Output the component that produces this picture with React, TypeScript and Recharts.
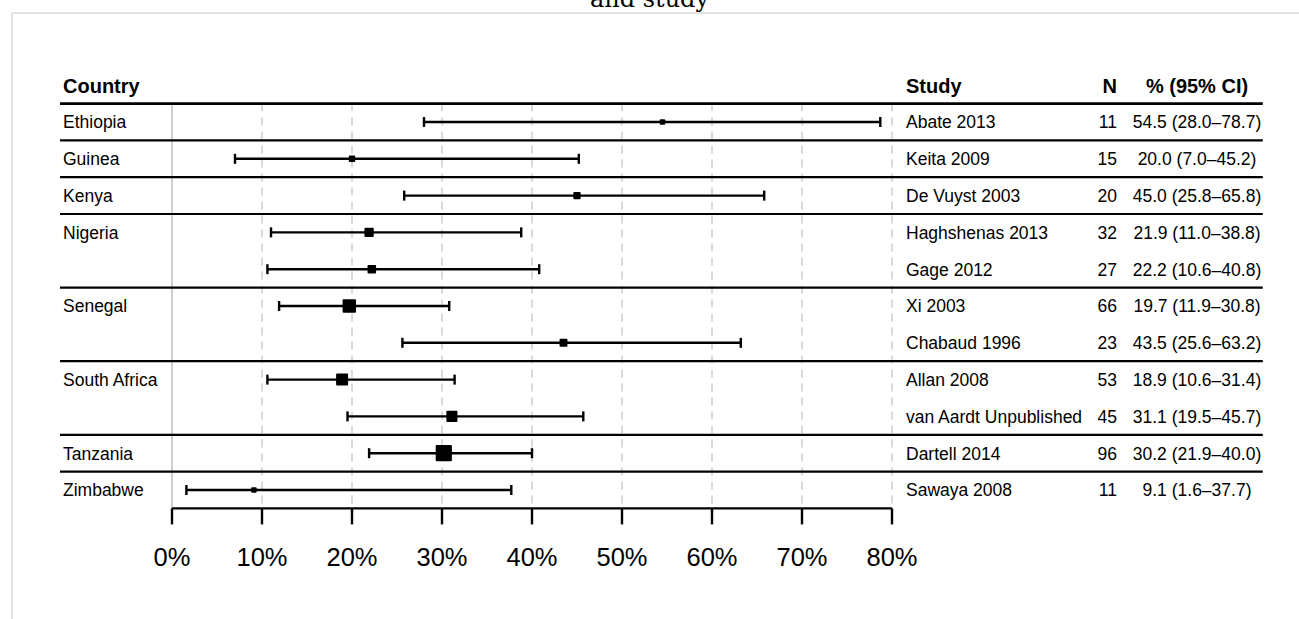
import { ScatterChart, Scatter, XAxis, YAxis, CartesianGrid, ErrorBar, ReferenceLine } from 'recharts'

const COUNTRIES = ['Ethiopia', 'Guinea', 'Kenya', 'Nigeria', 'Nigeria', 'Senegal', 'Senegal', 'South Africa', 'South Africa', 'Tanzania', 'Zimbabwe']
const STUDIES = ['Abate 2013', 'Keita 2009', 'De Vuyst 2003', 'Haghshenas 2013', 'Gage 2012', 'Xi 2003', 'Chabaud 1996', 'Allan 2008', 'van Aardt Unpublished', 'Dartell 2014', 'Sawaya 2008']
const N = [11, 15, 20, 32, 27, 66, 23, 53, 45, 96, 11]
const EST = [54.5, 20.0, 45.0, 21.9, 22.2, 19.7, 43.5, 18.9, 31.1, 30.2, 9.1]
const LOW = [28.0, 7.0, 25.8, 11.0, 10.6, 11.9, 25.6, 10.6, 19.5, 21.9, 1.6]
const HIGH = [78.7, 45.2, 65.8, 38.8, 40.8, 30.8, 63.2, 31.4, 45.7, 40.0, 37.7]
const X_TICKS = [0, 10, 20, 30, 40, 50, 60, 70, 80]

const rows = STUDIES.map((s, i) => ({
  x: EST[i],
  y: i,
  err: [EST[i] - LOW[i], HIGH[i] - EST[i]],
  n: N[i],
  study: s,
  country: i > 0 && COUNTRIES[i - 1] === COUNTRIES[i] ? '' : COUNTRIES[i],
  ci: `${EST[i].toFixed(1)} (${LOW[i].toFixed(1)}–${HIGH[i].toFixed(1)})`,
}))

// separators: top of table plus every place the country changes
const separators = [-0.5]
COUNTRIES.forEach((c, i) => {
  if (i < COUNTRIES.length - 1 && COUNTRIES[i + 1] !== c) separators.push(i + 0.5)
})

const FONT = 'Liberation Sans, Arial, Helvetica, sans-serif'
const LINE_X0 = -12.44 // x=60px in data units
const LINE_X1 = 121.2 // x=1263px

function RowTick({ y, payload }: any) {
  const r = rows[payload.value]
  if (!r) return null
  return (
    <g fontFamily={FONT} fontSize={17.5} fill="#000">
      <text x={63} y={y} dy="0.36em" textAnchor="start">{r.country}</text>
      <text x={906} y={y} dy="0.36em" textAnchor="start">{r.study}</text>
      <text x={1117} y={y} dy="0.36em" textAnchor="end">{r.n}</text>
      <text x={1197} y={y} dy="0.36em" textAnchor="middle">{r.ci}</text>
    </g>
  )
}

function SquareMark(props: any) {
  const { cx, cy } = props
  const n = props.payload?.n ?? props.n
  const s = 1.65 * Math.sqrt(n)
  return <rect x={cx - s / 2} y={cy - s / 2} width={s} height={s} rx={1} fill="#000" />
}

export default function App() {
  return (
    <div style={{ position: 'absolute', left: 0, top: 0, width: 1299, height: 619, overflow: 'hidden', background: '#fff' }}>
      <div style={{ position: 'absolute', left: 11, top: 12, width: 1400, height: 700, border: '2px solid #e3e3e3' }} />
      <div style={{ position: 'absolute', left: 0, width: 1299, top: -15, textAlign: 'center', fontFamily: 'DejaVu Serif, serif', fontSize: 24 }}>
        and study
      </div>
      <div style={{ position: 'absolute', left: 0, top: 0 }}>
        <ScatterChart width={1299} height={619} margin={{ top: 103.6, right: 407, bottom: 30.6, left: 12 }}>
          <CartesianGrid horizontal={false} stroke="#d9d9d9" strokeWidth={2} strokeDasharray="8 6" />
          <XAxis
            type="number"
            dataKey="x"
            domain={[0, 80]}
            ticks={X_TICKS}
            interval={0}
            tickFormatter={(v) => `${v}%`}
            height={80}
            axisLine={{ stroke: '#000', strokeWidth: 2.4 }}
            tickLine={{ stroke: '#000', strokeWidth: 2.4 }}
            tickSize={16}
            tickMargin={23}
            tick={{ fontSize: 25.5, fill: '#000', fontFamily: FONT }}
          />
          <YAxis
            type="number"
            dataKey="y"
            domain={[-0.5, 10.5]}
            reversed
            ticks={rows.map((r) => r.y)}
            interval={0}
            width={160}
            axisLine={false}
            tickLine={false}
            tick={<RowTick />}
          />
          <ReferenceLine x={0} stroke="#cfcfcf" strokeWidth={2} />
          {separators.map((s) => (
            <ReferenceLine
              key={s}
              segment={[{ x: LINE_X0, y: s }, { x: LINE_X1, y: s }]}
              stroke="#000"
              strokeWidth={s < 0 ? 2.8 : 2.2}
              ifOverflow="visible"
            />
          ))}
          <Scatter data={rows} shape={<SquareMark />} isAnimationActive={false}>
            <ErrorBar dataKey="err" direction="x" width={5} stroke="#000" strokeWidth={2.4} />
          </Scatter>
          <g fontFamily={FONT} fontSize={20} fontWeight="bold" fill="#000">
            <text x={63} y={93}>Country</text>
            <text x={906} y={93}>Study</text>
            <text x={1117} y={93} textAnchor="end">N</text>
            <text x={1197} y={93} textAnchor="middle">% (95% CI)</text>
          </g>
        </ScatterChart>
      </div>
    </div>
  )
}
